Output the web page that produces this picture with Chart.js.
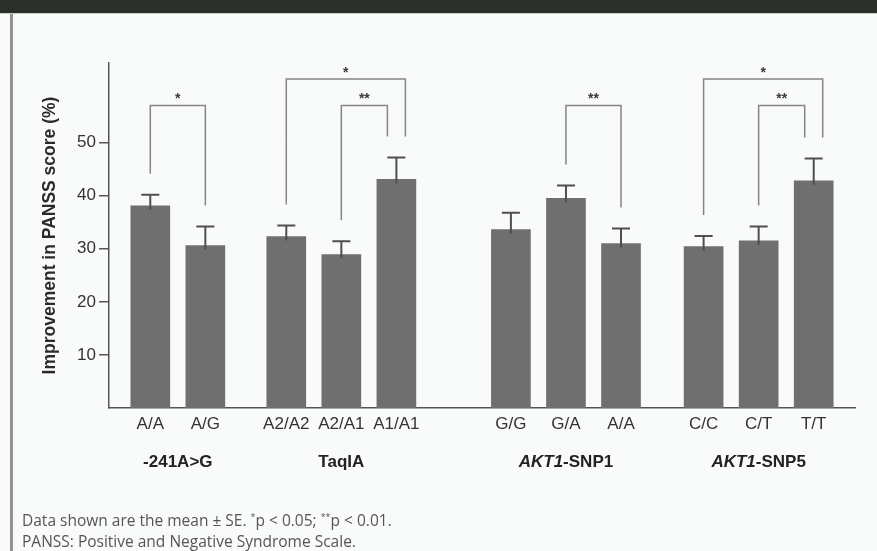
<!DOCTYPE html>
<html>
<head>
<meta charset="utf-8">
<script src="https://cdn.jsdelivr.net/npm/chart.js@4.4.1/dist/chart.umd.min.js"></script>
<style>
    body { margin: 0; background: #f9fbfb; width: 877px; height: 551px; overflow: hidden; position: relative; }
    .header { position: absolute; left: 0; top: 0; width: 877px; height: 13px; background: #2a2f2a; border-bottom: 1px solid #c9cdc9; }
    .border { position: absolute; left: 10px; top: 14px; width: 3px; height: 537px; background: #939393; }
    .note { position: absolute; left: 22px; font-family: 'Open Sans', sans-serif; font-size: 15.5px; color: #555; white-space: nowrap; }
    .note sup { font-size: 9px; }
    canvas { position: absolute; left: 0; top: 0; }
</style>
</head>
<body>
<div class="header"></div>
<div class="border"></div>
<canvas id="chart" width="877" height="551"></canvas>
<div class="note" style="top: 509px;">Data shown are the mean ± SE. <sup>*</sup>p &lt; 0.05; <sup>**</sup>p &lt; 0.01.</div>
<div class="note" style="top: 530px;">PANSS: Positive and Negative Syndrome Scale.</div>

<script>
// Data
const groupNames = ['-241A>G', 'TaqIA', 'AKT1-SNP1', 'AKT1-SNP5'];
const genotypes = [['A/A', 'A/G'], ['A2/A2', 'A2/A1', 'A1/A1'], ['G/G', 'G/A', 'A/A'], ['C/C', 'C/T', 'T/T']];
const meanValues = [[38.1, 30.6], [32.3, 28.9, 43.1], [33.6, 39.5, 31.0], [30.4, 31.5, 42.8]];
const seValues = [[2.1, 3.6], [2.1, 2.5, 4.1], [3.2, 2.4, 2.8], [2.0, 2.7, 4.2]];
const yTickValues = [10, 20, 30, 40, 50];

// significance brackets (bar indices counted across all groups)
const bracketFrom = [0, 2, 3, 6, 8, 9];
const bracketTo = [1, 4, 4, 7, 10, 10];
const bracketLevels = [57, 62, 57, 57, 62, 57];
const bracketLabels = ['*', '*', '**', '**', '*', '**'];

const FONT = "'Liberation Sans', Arial, sans-serif";
const BAR_COLOR = '#6e6f6e';
const groupGaps = [1.47, 2.08, 1.5];

// flatten groups and lay them out on a linear x axis
const flatLabels = [], flatMeans = [], flatSe = [], positions = [], groupOf = [];
let pos = 0;
genotypes.forEach((g, gi) => {
    g.forEach((label, i) => {
        flatLabels.push(label);
        flatMeans.push(meanValues[gi][i]);
        flatSe.push(seValues[gi][i]);
        positions.push(pos + i);
        groupOf.push(gi);
    });
    pos += g.length - 1 + (groupGaps[gi] || 0);
});

function legOffset(k, bar) {
    const sharing = [];
    bracketFrom.forEach((f, j) => { if (f === bar || bracketTo[j] === bar) sharing.push(j); });
    if (sharing.length < 2) return 0;
    const maxLevel = Math.max(...sharing.map(j => bracketLevels[j]));
    return bracketLevels[k] === maxLevel ? 9 : -9;
}

const annotations = {
    id: 'annotations',
    afterDatasetsDraw(chart) {
        const ctx = chart.ctx;
        const meta = chart.getDatasetMeta(0);
        const y = chart.scales.y;
        ctx.save();

        // error bars (upper only)
        ctx.strokeStyle = '#4f4f4f';
        ctx.lineWidth = 2;
        const errTop = [];
        meta.data.forEach((bar, i) => {
            const top = y.getPixelForValue(flatMeans[i] + flatSe[i]);
            errTop.push(top);
            ctx.beginPath();
            ctx.moveTo(bar.x, bar.y + 4);
            ctx.lineTo(bar.x, top);
            ctx.moveTo(bar.x - 9, top);
            ctx.lineTo(bar.x + 9, top);
            ctx.stroke();
        });

        // brackets
        ctx.strokeStyle = '#858585';
        ctx.lineWidth = 1.5;
        ctx.fillStyle = '#3a3a3a';
        ctx.font = 'bold 14px ' + FONT;
        ctx.textAlign = 'center';
        ctx.textBaseline = 'middle';
        bracketFrom.forEach((a, k) => {
            const b = bracketTo[k];
            const x1 = meta.data[a].x + legOffset(k, a);
            const x2 = meta.data[b].x + legOffset(k, b);
            const top = y.getPixelForValue(bracketLevels[k]);
            ctx.beginPath();
            ctx.moveTo(x1, errTop[a] - 21);
            ctx.lineTo(x1, top);
            ctx.lineTo(x2, top);
            ctx.lineTo(x2, errTop[b] - 21);
            ctx.stroke();
            ctx.fillText(bracketLabels[k], (x1 + x2) / 2, top - 6);
        });

        // group names under the axis
        ctx.fillStyle = '#222';
        ctx.textAlign = 'left';
        groupNames.forEach((name, gi) => {
            const idx = groupOf.map((g, i) => g === gi ? i : -1).filter(i => i >= 0);
            const cx = (meta.data[idx[0]].x + meta.data[idx[idx.length - 1]].x) / 2;
            let italic = '', rest = name;
            if (name.startsWith('AKT1')) { italic = 'AKT1'; rest = name.slice(4); }
            ctx.font = 'italic bold 17px ' + FONT;
            const w1 = ctx.measureText(italic).width;
            ctx.font = 'bold 17px ' + FONT;
            const w2 = ctx.measureText(rest).width;
            let x = cx - (w1 + w2) / 2;
            if (italic) {
                ctx.font = 'italic bold 17px ' + FONT;
                ctx.fillText(italic, x, 462);
                ctx.font = 'bold 17px ' + FONT;
            }
            ctx.fillText(rest, x + w1, 462);
        });
        ctx.restore();
    }
};

new Chart(document.getElementById('chart'), {
    type: 'bar',
    data: {
        datasets: [{
            data: positions.map((p, i) => ({ x: p, y: flatMeans[i] })),
            backgroundColor: BAR_COLOR,
            borderWidth: 0,
            barThickness: 39
        }]
    },
    options: {
        responsive: false,
        animation: false,
        layout: { padding: { left: 30, top: 63, right: 22, bottom: 113 } },
        plugins: { legend: { display: false }, tooltip: { enabled: false } },
        scales: {
            x: {
                type: 'linear',
                min: -0.75,
                max: 12.8,
                offset: false,
                afterBuildTicks: s => { s.ticks = positions.map(v => ({ value: v })); },
                afterFit: s => { s.height = 30; },
                border: { color: '#555', width: 1.5 },
                grid: { display: false, drawTicks: false },
                ticks: {
                    callback: (v, i) => flatLabels[i],
                    autoSkip: false,
                    maxRotation: 0,
                    padding: 6,
                    color: '#333',
                    font: { family: FONT, size: 17 }
                }
            },
            y: {
                min: 0,
                max: 65,
                afterBuildTicks: s => { s.ticks = yTickValues.map(v => ({ value: v })); },
                afterFit: s => { s.width = 79; },
                border: { color: '#555', width: 1.5 },
                grid: { drawOnChartArea: false, tickLength: 10, color: '#555', lineWidth: 1.5 },
                ticks: { padding: 3, color: '#333', font: { family: FONT, size: 17 } },
                title: {
                    display: true,
                    text: 'Improvement in PANSS score (%)',
                    color: '#2a2a2a',
                    font: { family: FONT, size: 17.5, weight: 'bold' },
                    padding: { top: 10, bottom: 0 }
                }
            }
        }
    },
    plugins: [annotations]
});
</script>
</body>
</html>
